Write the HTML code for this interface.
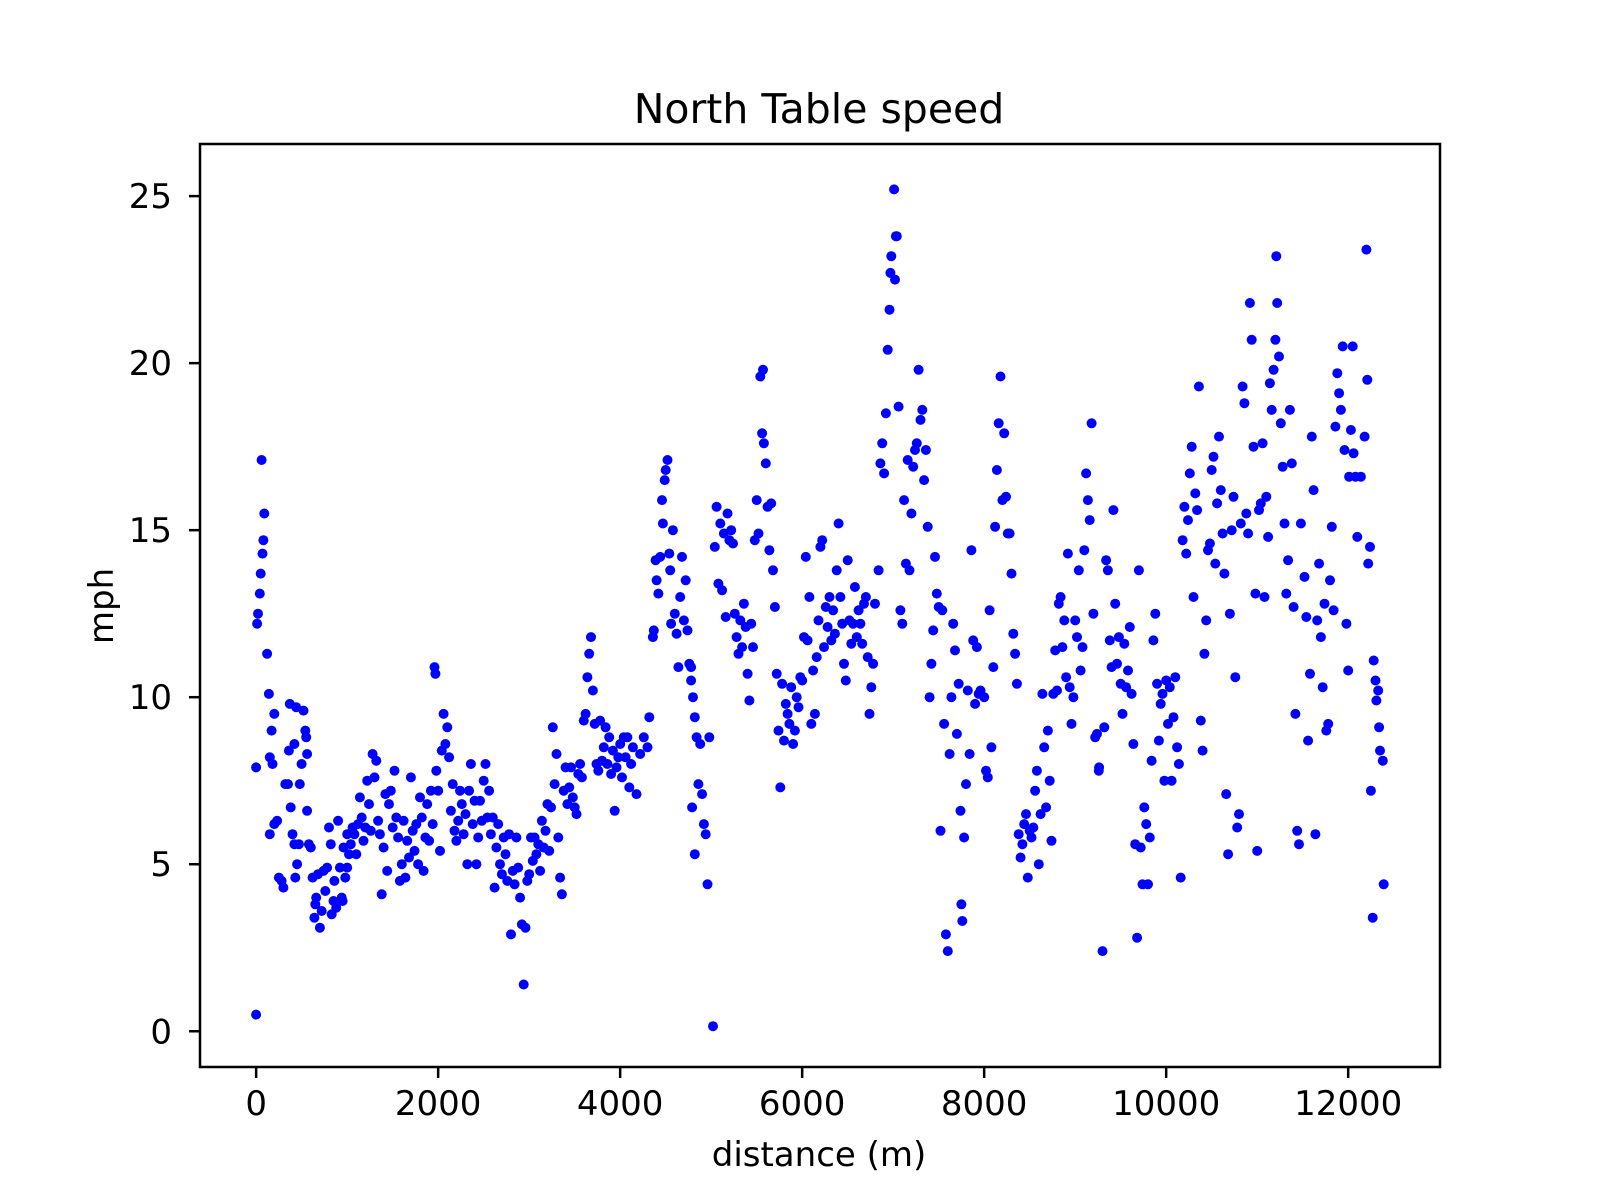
<!DOCTYPE html>
<html><head><meta charset="utf-8"><style>
html,body{margin:0;padding:0;background:#fff;}
svg{display:block;font-family:"DejaVu Sans","Liberation Sans",sans-serif;}
</style></head><body>
<svg id="chart" width="1600" height="1200" viewBox="0 0 1600 1200">
<rect x="0" y="0" width="1600" height="1200" fill="#fff"/>
<text x="819" y="123" text-anchor="middle" font-size="41">North Table speed</text>
<g id="points"></g>
<g id="xaxis"></g>
<g id="yaxis"></g>
<rect x="200" y="144" width="1240" height="923" fill="none" stroke="#000" stroke-width="2.5"/>
<text x="819" y="1166" text-anchor="middle" font-size="34">distance (m)</text>
<text transform="translate(113,606) rotate(-90)" text-anchor="middle" font-size="34">mph</text>
</svg>
<script>
const xTicks=[0,2000,4000,6000,8000,10000,12000];
const yTicks=[0,5,10,15,20,25];
const distance=[0,0,10,20,40,50,70,80,90,60,120,140,150,170,180,200,150,200,230,250,280,300,320,350,360,370,380,400,420,430,450,470,480,500,520,540,550,560,560,580,600,420,440,
620,640,650,660,680,700,720,740,760,780,800,820,830,850,860,880,900,920,940,950,960,980,1000,1000,
1020,1040,1060,1080,1100,1120,1140,1160,1180,1200,1220,1240,1260,1280,1300,1320,1340,1360,1380,1400,1420,1440,1460,1480,1500,
1520,1540,1560,1580,1600,1620,1640,1660,1680,1700,1720,1740,1760,1780,1800,1820,1840,1860,1880,1900,1920,1940,1960,1970,1980,2000,
2020,2040,2060,2080,2100,2120,2140,2160,2180,2200,2220,2240,2260,2280,2300,2320,2340,2360,2380,2400,2420,2440,2460,2480,2500,
2520,2540,2560,2580,2600,2620,2640,2660,2680,2700,2720,2740,2760,2780,2800,2820,2840,2860,2880,2900,2920,2940,2960,2980,3000,
3020,3040,3060,3080,3100,3120,3140,3160,3180,3200,3220,3240,3260,3280,3300,3320,3340,3360,3380,3400,3420,3440,3460,3480,3500,
3520,3540,3560,3580,3600,3620,3640,3660,3680,3700,3720,3740,3760,3780,3800,3820,3840,3860,3880,3900,3920,3940,3960,3980,4000,
4020,4040,4060,4080,4100,4120,4140,4180,4220,4260,4300,4320,4360,4370,4390,4400,4420,4440,4460,4470,4490,4500,4520,4540,4550,4560,4580,4600,4620,4640,4660,4680,4700,4720,4740,4760,4780,4800,4820,4840,4860,4880,4900,4920,4960,4980,4780,4790,4820,4940,
5020,5040,5060,5080,5100,5120,5140,5160,5180,5200,5220,5240,5260,5280,5300,5320,5340,5360,5380,5400,5420,5440,5460,5480,5500,
5520,5540,5560,5570,5580,5600,5620,5640,5660,5680,5700,5720,5740,5760,5780,5800,5820,5840,5860,5880,5900,5920,5940,5960,5980,6000,
6020,6040,6060,6080,6100,6120,6140,6160,6180,6200,6220,6240,6260,6280,6300,6320,6340,6360,6380,6400,6420,6440,6460,6480,6500,
6520,6540,6560,6580,6600,6620,6640,6660,6680,6700,6720,6740,6760,6780,6800,6840,6860,6880,6900,6920,6940,6960,6970,6980,7030,7010,7020,
7040,7060,7080,7100,7120,7140,7160,7180,7200,7220,7240,7260,7280,7300,7320,7340,7360,7380,7400,7420,7440,7460,7480,7500,
7520,7540,7560,7580,7600,7620,7640,7660,7680,7700,7720,7740,7750,7760,7780,7800,7820,7840,7860,7880,7900,7920,7940,7960,8000,
8020,8040,8060,8080,8100,8120,8140,8160,8180,8200,8220,8240,8260,8280,8300,8320,8340,8360,8380,8400,8420,8440,8460,8480,8500,
8520,8540,8560,8580,8600,8620,8640,8660,8680,8700,8720,8740,8760,8780,8800,8820,8840,8860,8880,8900,8920,8940,8960,8980,9000,
9020,9040,9060,9080,9100,9120,9140,9160,9180,9200,9220,9240,9260,9263,9300,9320,9340,9360,9380,9400,9420,9440,9460,9480,9500,
9520,9540,9560,9580,9600,9620,9640,9660,9680,9700,9720,9740,9760,9780,9800,9820,9840,9860,9880,9900,9920,9940,9960,9980,10000,
10020,10040,10060,10080,10100,10120,10140,10160,10180,10200,10220,10240,10260,10280,10300,10320,10340,10360,10380,10400,10420,10440,10460,10480,10500,
10520,10540,10560,10580,10600,10620,10640,10660,10680,10700,10720,10740,10760,10780,10800,10820,10840,10860,10880,10900,10920,10940,10960,10980,11000,
11020,11040,11060,11080,11100,11120,11140,11160,11180,11200,11210,11220,11240,11260,11280,11300,11320,11340,11360,11380,11400,11420,11440,11460,11480,
11520,11540,11560,11580,11600,11620,11640,11660,11680,11700,11720,11740,11760,11780,11800,11820,11840,11860,11880,11900,11920,11940,11960,11980,12000,
12010,12030,12050,12060,12080,12100,12140,12180,12200,12210,12220,12240,12250,12270,12280,12300,12310,12330,12340,12350,12380,12390];
const speed=[0.5,7.9,12.2,12.5,13.1,13.7,14.3,14.7,15.5,17.1,11.3,10.1,8.2,9.0,8.0,9.5,5.9,6.2,6.3,4.6,4.5,4.3,7.4,7.4,8.4,9.8,6.7,5.9,5.6,4.6,5.0,5.6,7.4,8.0,9.6,9.0,8.8,8.3,6.6,5.6,5.5,8.6,9.7,
4.6,3.4,3.8,4.0,4.7,3.1,3.6,4.8,4.2,4.9,6.1,5.6,3.5,3.9,4.5,3.7,6.3,4.9,4.0,3.9,5.5,4.6,4.9,5.9,
5.3,5.6,6.1,5.9,5.3,6.2,7.0,6.4,5.7,6.1,7.5,6.8,6.0,8.3,7.6,8.1,6.3,5.9,4.1,5.5,7.1,4.8,6.8,7.2,6.1,
7.8,6.4,5.8,4.5,5.0,6.3,4.6,5.7,5.2,7.6,6.0,5.4,6.2,5.0,7.0,6.4,4.8,5.8,6.8,5.7,7.2,6.2,10.9,10.7,7.8,7.2,
5.4,8.4,9.5,8.6,9.1,8.2,6.6,7.4,6.0,5.7,6.3,7.2,6.8,5.9,6.5,5.0,7.2,8.0,6.2,6.9,5.0,5.8,6.9,6.3,7.5,
8.0,6.4,7.2,5.9,6.4,4.3,5.5,6.2,5.0,4.7,5.8,5.3,4.5,5.9,2.9,4.8,4.4,5.8,4.9,4.0,3.2,1.4,3.1,4.5,4.7,
5.8,5.1,5.8,5.3,5.6,4.8,6.3,5.5,6.0,6.8,5.4,6.7,9.1,7.4,8.3,5.8,4.6,4.1,7.2,7.9,6.8,7.3,7.9,7.0,6.7,
6.5,7.7,8.0,7.6,9.3,9.5,10.6,11.3,11.8,10.2,9.2,8.0,7.8,9.3,8.1,8.5,9.1,8.0,8.8,7.7,8.4,6.6,7.9,8.2,8.6,
7.6,8.8,8.2,8.8,7.3,8.0,8.5,7.1,8.3,8.8,8.5,9.4,11.8,12.0,14.1,13.5,13.1,14.2,15.9,15.2,16.5,16.8,17.1,14.3,13.8,12.2,15.0,12.5,11.9,10.9,13.0,14.2,12.3,13.5,12.0,11.0,10.5,10.0,9.4,8.8,7.4,8.6,7.1,6.2,4.4,8.8,10.9,6.7,5.3,5.9,0.15,
14.5,15.7,13.4,15.2,13.2,14.9,12.4,15.5,14.7,15.0,14.6,12.5,11.8,11.3,12.3,11.5,12.8,12.1,10.7,9.9,12.2,11.5,14.7,15.9,14.9,
19.6,17.9,19.8,17.6,17.0,15.7,14.4,15.8,13.8,12.7,10.7,9.0,7.3,10.4,8.7,9.8,9.5,9.2,10.3,8.6,9.0,10.0,9.7,10.6,10.5,11.8,
14.2,11.7,13.0,9.2,10.8,9.5,11.2,12.3,14.5,14.7,11.5,12.7,12.1,13.0,11.7,12.6,11.9,13.8,15.2,13.0,12.2,11.0,10.5,14.1,12.3,
11.6,12.2,13.3,11.8,12.6,12.2,11.6,12.8,13.0,11.2,9.5,10.3,11.0,12.8,13.8,17.0,17.6,16.7,18.5,20.4,21.6,22.7,23.2,23.8,25.2,22.5,23.8,
18.7,12.6,12.2,15.9,14.0,17.1,13.8,15.5,16.9,17.4,17.6,19.8,18.3,18.6,16.5,17.4,15.1,10.0,11.0,12.0,14.2,13.1,12.7,6.0,
12.6,9.2,2.9,2.4,8.3,10.0,12.2,11.4,8.9,10.4,6.6,3.8,3.3,5.8,7.4,10.2,8.3,14.4,11.7,9.8,11.5,10.1,10.2,10.0,7.8,
7.6,12.6,8.5,10.9,15.1,16.8,18.2,19.6,15.9,17.9,16.0,14.9,14.9,13.7,11.9,11.3,10.4,5.9,5.2,5.6,6.2,6.5,4.6,6.0,5.8,
6.1,7.2,7.8,5.0,6.5,10.1,8.5,6.7,9.0,7.5,5.7,10.1,11.4,10.2,12.8,13.0,11.5,12.3,10.6,14.3,10.3,9.2,10.0,12.3,11.8,
13.8,10.8,11.5,14.4,16.7,15.9,15.3,18.2,12.5,8.8,8.9,7.8,7.9,2.4,9.1,14.1,13.8,11.7,10.9,15.6,12.8,11.0,11.8,10.4,9.5,
11.6,10.3,10.8,12.1,10.1,8.6,5.6,2.8,13.8,5.5,4.4,6.7,6.2,4.4,5.8,8.1,11.7,12.5,10.4,8.7,9.8,10.1,7.5,10.5,9.2,
10.3,7.5,9.4,10.6,8.5,8.0,4.6,14.7,15.7,14.3,15.3,16.7,17.5,13.0,16.1,15.6,19.3,9.3,8.4,11.3,12.3,14.4,14.6,16.8,17.2,
14.0,15.8,17.8,16.2,14.9,13.7,7.1,5.3,12.5,15.0,16.0,10.6,6.1,6.5,15.2,19.3,18.8,15.5,14.9,21.8,20.7,17.5,13.1,5.4,15.6,
15.8,17.6,13.0,16.0,14.8,19.4,18.6,19.8,20.7,23.2,21.8,20.2,18.2,16.9,15.2,13.1,14.1,18.6,17.0,12.7,9.5,6.0,5.6,15.2,13.6,
12.4,8.7,10.7,17.8,16.2,5.9,12.3,14.0,11.8,10.3,12.8,9.0,9.2,13.5,15.1,12.6,18.1,19.7,19.1,18.6,20.5,17.4,12.2,10.8,16.6,
18.0,20.5,17.3,16.6,14.8,16.6,17.8,23.4,19.5,14.0,14.5,7.2,3.4,11.1,10.5,9.9,10.2,9.1,8.4,8.1,4.4,2.3];
const NS='http://www.w3.org/2000/svg';
const X0=200,X1=1440,Y0=144,Y1=1067;
const xMin=-617,xMax=13009,yMin=-1.07,yMax=26.56;
function sx(v){return X0+(v-xMin)/(xMax-xMin)*(X1-X0);}
function sy(v){return Y1-(v-yMin)/(yMax-yMin)*(Y1-Y0);}
const pg=document.getElementById('points');
for(let i=0;i<distance.length&&i<speed.length;i++){
  const c=document.createElementNS(NS,'circle');
  c.setAttribute('cx',sx(distance[i]).toFixed(1));
  c.setAttribute('cy',sy(speed[i]).toFixed(1));
  c.setAttribute('r','5');
  c.setAttribute('fill','#0000ff');
  
  
  pg.appendChild(c);
}
const xg=document.getElementById('xaxis');
xTicks.forEach(t=>{
  const x=sx(t);
  const l=document.createElementNS(NS,'line');
  l.setAttribute('x1',x);l.setAttribute('x2',x);l.setAttribute('y1',Y1);l.setAttribute('y2',Y1+11);
  l.setAttribute('stroke','#000');l.setAttribute('stroke-width','2.5');
  
  
  xg.appendChild(l);
  const tx=document.createElementNS(NS,'text');
  tx.setAttribute('x',x);tx.setAttribute('y',Y1+48);tx.setAttribute('text-anchor','middle');tx.setAttribute('font-size','34');
  tx.textContent=String(t);
  
  
  xg.appendChild(tx);
});
const yg=document.getElementById('yaxis');
yTicks.forEach(t=>{
  const y=sy(t);
  const l=document.createElementNS(NS,'line');
  l.setAttribute('x1',X0-11);l.setAttribute('x2',X0);l.setAttribute('y1',y);l.setAttribute('y2',y);
  l.setAttribute('stroke','#000');l.setAttribute('stroke-width','2.5');
  
  
  yg.appendChild(l);
  const tx=document.createElementNS(NS,'text');
  tx.setAttribute('x',X0-28);tx.setAttribute('y',y+12);tx.setAttribute('text-anchor','end');tx.setAttribute('font-size','34');
  tx.textContent=String(t);
  
  
  yg.appendChild(tx);
});
</script>
</body></html>
